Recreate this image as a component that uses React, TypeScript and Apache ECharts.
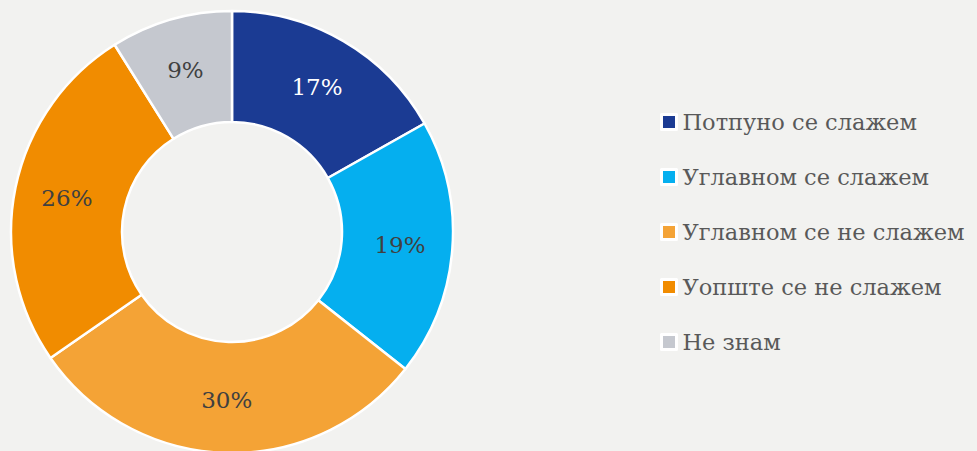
import React, { useEffect, useRef } from "react";
import * as echarts from "echarts";

const categories = [
  "Потпуно се слажем",
  "Углавном се слажем",
  "Углавном се не слажем",
  "Уопште се не слажем",
  "Не знам",
];
const values = [17, 19, 30, 26, 9];
const colors = ["#1B3B93", "#05AFEF", "#F4A336", "#F18C00", "#C5C8CF"];
const labelColors = ["#FFFFFF", "#404040", "#404040", "#404040", "#404040"];

export default function App() {
  const ref = useRef<HTMLDivElement>(null);
  useEffect(() => {
    document.body.style.margin = "0";
    const chart = echarts.init(ref.current!, null, { renderer: "svg" });
    const font = "DejaVu Serif";
    chart.setOption({
      animation: false,
      backgroundColor: "#F2F2F0",
      textStyle: { fontFamily: font },
      legend: {
        orient: "vertical",
        left: 655,
        top: 103,
        itemWidth: 15,
        itemHeight: 15,
        itemGap: 27,
        icon: "rect",
        itemStyle: { borderColor: "#FFFFFF", borderWidth: 3 },
        textStyle: {
          fontSize: 22.5,
          color: "#595959",
          fontFamily: font,
          lineHeight: 28,
          padding: [0, 0, 0, 1],
        },
        data: categories,
      },
      series: [
        {
          type: "pie",
          center: [232, 232],
          radius: [110, 221],
          startAngle: 90,
          clockwise: true,
          avoidLabelOverlap: false,
          itemStyle: { borderColor: "#FFFFFF", borderWidth: 2.5 },
          label: {
            show: true,
            position: "inside",
            formatter: "{c}%",
            fontSize: 23,
            fontFamily: font,
          },
          labelLine: { show: false },
          emphasis: { disabled: true },
          data: categories.map((name, i) => ({
            name,
            value: values[i],
            itemStyle: { color: colors[i] },
            label: { color: labelColors[i] },
          })),
        },
      ],
    });
    return () => chart.dispose();
  }, []);
  return <div ref={ref} style={{ width: 977, height: 451 }} />;
}
